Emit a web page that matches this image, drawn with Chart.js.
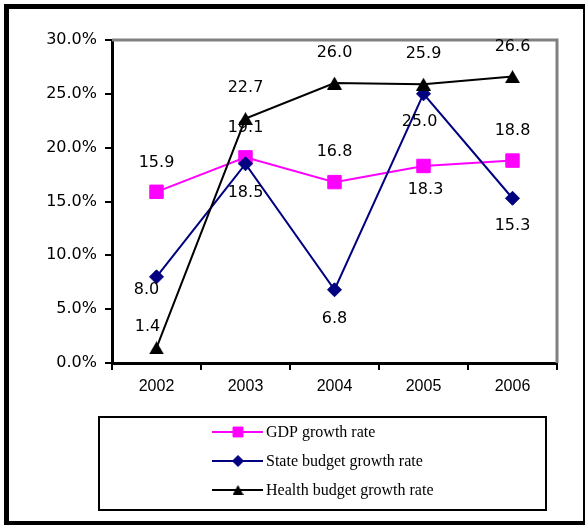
<!DOCTYPE html>
<html>
<head>
<meta charset="utf-8">
<script src="https://cdn.jsdelivr.net/npm/chart.js@4/dist/chart.umd.min.js"></script>
<style>
  html, body { margin: 0; padding: 0; background: #fff; }
  canvas { display: block; }
</style>
</head>
<body>
<canvas id="chart" width="586" height="525"></canvas>
<script>
// Growth rates (%) by year
const years = ['2002', '2003', '2004', '2005', '2006'];
const gdpGrowth = [15.9, 19.1, 16.8, 18.3, 18.8];
const stateBudgetGrowth = [8.0, 18.5, 6.8, 25.0, 15.3];
const healthBudgetGrowth = [1.4, 22.7, 26.0, 25.9, 26.6];
const seriesNames = ['GDP growth rate', 'State budget growth rate', 'Health budget growth rate'];

// y axis: 0% to 30% in 5% steps
const yMin = 0;
const yMax = 30;
const yStep = 5;

// Filled triangle marker, centred on its bounding box
function triangleMarker(w, h, color) {
  const c = document.createElement('canvas');
  c.width = w; c.height = h;
  const g = c.getContext('2d');
  g.fillStyle = color;
  g.beginPath();
  g.moveTo(w / 2, 0);
  g.lineTo(w, h);
  g.lineTo(0, h);
  g.closePath();
  g.fill();
  return c;
}

const MAGENTA = '#FF00FF';
const NAVY = '#000080';
const BLACK = '#000000';

// Outer frame, plot outline and data value labels
const decorations = {
  id: 'decorations',
  beforeDraw(chart) {
    const ctx = chart.ctx;
    ctx.save();
    ctx.fillStyle = '#fff';
    ctx.fillRect(0, 0, chart.width, chart.height);
    ctx.fillStyle = '#000';
    ctx.fillRect(4, 4, 5, 521);     // left
    ctx.fillRect(4, 4, 581, 5);     // top
    ctx.fillRect(583, 4, 2, 521);   // right
    ctx.fillRect(4, 521, 581, 4);   // bottom
    ctx.restore();
  },
  beforeDatasetsDraw(chart) {
    const { ctx, chartArea: a } = chart;
    ctx.save();
    ctx.strokeStyle = '#808080';
    ctx.lineWidth = 3;
    ctx.beginPath();
    ctx.moveTo(a.left, a.top);
    ctx.lineTo(a.right, a.top);
    ctx.lineTo(a.right, a.bottom);
    ctx.stroke();
    ctx.restore();
  },
  afterDatasetsDraw(chart) {
    const ctx = chart.ctx;
    ctx.save();
    ctx.fillStyle = '#000';
    ctx.font = '16px "DejaVu Sans"';
    ctx.textAlign = 'center';
    ctx.textBaseline = 'middle';
    chart.data.datasets.forEach((ds, i) => {
      const meta = chart.getDatasetMeta(i);
      meta.data.forEach((pt, j) => {
        const off = ds.labelOffsets[j];
        ctx.fillText(ds.data[j].toFixed(1), pt.x + off[0], pt.y + off[1]);
      });
    });
    ctx.restore();
  },
  afterDraw(chart) {
    const ctx = chart.ctx;
    ctx.save();
    // legend box
    ctx.strokeStyle = '#000';
    ctx.lineWidth = 2;
    ctx.strokeRect(99, 417, 447, 93);
    const rows = [432, 461, 490];
    const markers = [
      { pointStyle: 'rect', radius: 7 },
      { pointStyle: 'rectRot', radius: 5.5 },
      { pointStyle: triangleMarker(11, 10, BLACK), radius: 6 }
    ];
    chart.data.datasets.forEach((ds, i) => {
      const y = rows[i];
      ctx.strokeStyle = ds.borderColor;
      ctx.lineWidth = 2;
      ctx.beginPath();
      ctx.moveTo(212, y);
      ctx.lineTo(263, y);
      ctx.stroke();
      ctx.fillStyle = ds.pointBackgroundColor;
      ctx.strokeStyle = ds.pointBorderColor;
      ctx.lineWidth = 1;
      Chart.helpers.drawPoint(ctx, {
        pointStyle: markers[i].pointStyle,
        radius: markers[i].radius,
        rotation: 0,
        borderWidth: 1
      }, 238, y);
      ctx.fillStyle = '#000';
      ctx.font = '16px "Liberation Serif"';
      ctx.textAlign = 'left';
      ctx.textBaseline = 'middle';
      ctx.fillText(ds.label, 266, y + 1);
    });
    ctx.restore();
  }
};

new Chart(document.getElementById('chart'), {
  type: 'line',
  data: {
    labels: years,
    datasets: [
      {
        label: seriesNames[0],
        data: gdpGrowth,
        borderColor: MAGENTA,
        backgroundColor: MAGENTA,
        pointBackgroundColor: MAGENTA,
        pointBorderColor: MAGENTA,
        borderWidth: 2,
        pointStyle: 'rect',
        pointRadius: 9.5,
        pointBorderWidth: 1,
        order: 3,
        labelOffsets: [[0, -29], [0, -30], [0, -30], [2, 24], [0, -30]]
      },
      {
        label: seriesNames[1],
        data: stateBudgetGrowth,
        borderColor: NAVY,
        backgroundColor: NAVY,
        pointBackgroundColor: NAVY,
        pointBorderColor: NAVY,
        borderWidth: 2,
        pointStyle: 'rectRot',
        pointRadius: 7,
        pointBorderWidth: 1,
        order: 2,
        labelOffsets: [[-10, 13], [0, 29], [0, 29], [-4, 28], [0, 28]]
      },
      {
        label: seriesNames[2],
        data: healthBudgetGrowth,
        borderColor: BLACK,
        backgroundColor: BLACK,
        pointBackgroundColor: BLACK,
        pointBorderColor: BLACK,
        borderWidth: 2,
        pointStyle: triangleMarker(15, 13, BLACK),
        pointRadius: 8,
        order: 1,
        labelOffsets: [[-9, -21], [0, -31], [0, -30], [0, -30], [0, -30]]
      }
    ]
  },
  options: {
    responsive: false,
    animation: false,
    devicePixelRatio: 1,
    layout: { padding: { left: 0, top: 40, right: 29, bottom: 122 } },
    plugins: {
      legend: { display: false },
      tooltip: { enabled: false },
      title: { display: false }
    },
    elements: { line: { tension: 0 } },
    scales: {
      x: {
        type: 'category',
        offset: true,
        grid: {
          offset: true,
          drawOnChartArea: false,
          drawTicks: true,
          tickLength: 7,
          color: '#000',
          lineWidth: 2
        },
        border: { color: '#000', width: 3 },
        ticks: {
          color: '#000',
          font: { family: '"Liberation Sans"', size: 16 },
          padding: 7,
          maxRotation: 0
        },
        afterFit(scale) { scale.height = 40; }
      },
      y: {
        min: yMin,
        max: yMax,
        grid: {
          drawOnChartArea: false,
          drawTicks: true,
          tickLength: 7,
          color: '#000',
          lineWidth: 2
        },
        border: { color: '#000', width: 3 },
        ticks: {
          stepSize: yStep,
          color: '#000',
          font: { family: '"DejaVu Sans"', size: 16 },
          padding: 8,
          callback: (v) => Number(v).toFixed(1) + '%'
        },
        afterFit(scale) { scale.width = 112; }
      }
    }
  },
  plugins: [decorations]
});
</script>
</body>
</html>
